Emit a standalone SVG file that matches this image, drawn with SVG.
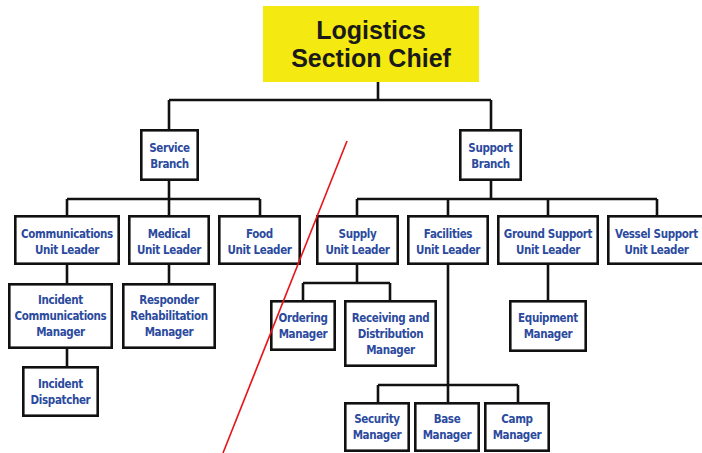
<svg xmlns="http://www.w3.org/2000/svg" width="702" height="453" viewBox="0 0 702 453">
<style>
.box{fill:#fff;stroke:#111;stroke-width:2.6}
.t{font-family:'DejaVu Sans Condensed','DejaVu Sans',sans-serif;font-stretch:condensed;font-weight:bold;font-size:11.5px;letter-spacing:-0.35px;fill:#2b4a9e;text-anchor:middle}
.c{fill:none;stroke:#111;stroke-width:2.6}
.chief{font-family:'Liberation Sans',Arial,sans-serif;font-weight:bold;font-size:25px;fill:#1a1a1a;text-anchor:middle}
</style>
<rect width="702" height="453" fill="#fff"/>
<g id="connectors">
<path class="c" d="M378,82V100M169,100H491M169,100V129M491,100V129"/>
<path class="c" d="M169,181V199M67,199H260M67,199V215M169,199V215M260,199V215"/>
<path class="c" d="M491,181V199M357,199H657M357,199V215M448,199V215M548,199V215M657,199V215"/>
<path class="c" d="M67,265V283M67,349V366M169,265V283"/>
<path class="c" d="M357,265V283M303,283H390M303,283V300M390,283V300"/>
<path class="c" d="M548,265V300"/>
<path class="c" d="M448,265V385M378,385H518M378,385V402M448,385V402M518,385V402"/>
</g>
<g id="chief">
<rect x="263" y="6" width="216" height="76" fill="#f4ea12"/>
<text class="chief" x="371" y="39">Logistics</text>
<text class="chief" x="371" y="67">Section Chief</text>
</g>
<g id="service">
<rect class="box" x="141.3" y="130.3" width="56.4" height="49.4"/>
<text class="t" x="169.5" y="152">Service</text>
<text class="t" x="169.5" y="168">Branch</text>
</g>
<g id="support">
<rect class="box" x="460.3" y="130.3" width="60.4" height="49.4"/>
<text class="t" x="490.5" y="152">Support</text>
<text class="t" x="490.5" y="168">Branch</text>
</g>
<g id="communications">
<rect class="box" x="15.3" y="216.3" width="103.4" height="47.4"/>
<text class="t" x="67" y="238">Communications</text>
<text class="t" x="67" y="254">Unit Leader</text>
</g>
<g id="medical">
<rect class="box" x="129.3" y="216.3" width="79.4" height="47.4"/>
<text class="t" x="169" y="238">Medical</text>
<text class="t" x="169" y="254">Unit Leader</text>
</g>
<g id="food">
<rect class="box" x="219.3" y="216.3" width="80.4" height="47.4"/>
<text class="t" x="259.5" y="238">Food</text>
<text class="t" x="259.5" y="254">Unit Leader</text>
</g>
<g id="supply">
<rect class="box" x="317.3" y="216.3" width="80.4" height="47.4"/>
<text class="t" x="357.5" y="238">Supply</text>
<text class="t" x="357.5" y="254">Unit Leader</text>
</g>
<g id="facilities">
<rect class="box" x="408.3" y="216.3" width="79.4" height="47.4"/>
<text class="t" x="448" y="238">Facilities</text>
<text class="t" x="448" y="254">Unit Leader</text>
</g>
<g id="ground">
<rect class="box" x="498.3" y="216.3" width="99.4" height="47.4"/>
<text class="t" x="548" y="238">Ground Support</text>
<text class="t" x="548" y="254">Unit Leader</text>
</g>
<g id="vessel">
<rect class="box" x="608.3" y="216.3" width="97.4" height="47.4"/>
<text class="t" x="656.5" y="238">Vessel Support</text>
<text class="t" x="656.5" y="254">Unit Leader</text>
</g>
<g id="icm">
<rect class="box" x="9.3" y="284.3" width="102.4" height="63.4"/>
<text class="t" x="60.5" y="304">Incident</text>
<text class="t" x="60.5" y="320">Communications</text>
<text class="t" x="60.5" y="336">Manager</text>
</g>
<g id="rrm">
<rect class="box" x="123.3" y="284.3" width="91.4" height="63.4"/>
<text class="t" x="169" y="304">Responder</text>
<text class="t" x="169" y="320">Rehabilitation</text>
<text class="t" x="169" y="336">Manager</text>
</g>
<g id="dispatcher">
<rect class="box" x="23.3" y="367.3" width="74.4" height="48.4"/>
<text class="t" x="60.5" y="388">Incident</text>
<text class="t" x="60.5" y="404">Dispatcher</text>
</g>
<g id="ordering">
<rect class="box" x="271.3" y="301.3" width="63.4" height="48.4"/>
<text class="t" x="303" y="322">Ordering</text>
<text class="t" x="303" y="338">Manager</text>
</g>
<g id="receiving">
<rect class="box" x="345.3" y="301.3" width="90.4" height="64.4"/>
<text class="t" x="390.5" y="322">Receiving and</text>
<text class="t" x="390.5" y="338">Distribution</text>
<text class="t" x="390.5" y="354">Manager</text>
</g>
<g id="equipment">
<rect class="box" x="510.3" y="301.3" width="75.4" height="49.4"/>
<text class="t" x="548" y="322">Equipment</text>
<text class="t" x="548" y="338">Manager</text>
</g>
<g id="security">
<rect class="box" x="345.3" y="403.3" width="63.4" height="47.4"/>
<text class="t" x="377" y="423">Security</text>
<text class="t" x="377" y="439">Manager</text>
</g>
<g id="base">
<rect class="box" x="415.3" y="403.3" width="63.4" height="47.4"/>
<text class="t" x="447" y="423">Base</text>
<text class="t" x="447" y="439">Manager</text>
</g>
<g id="camp">
<rect class="box" x="485.3" y="403.3" width="63.4" height="47.4"/>
<text class="t" x="517" y="423">Camp</text>
<text class="t" x="517" y="439">Manager</text>
</g>
<line x1="347" y1="141" x2="223" y2="453" stroke="#e8141b" stroke-width="1.6"/>
</svg>
